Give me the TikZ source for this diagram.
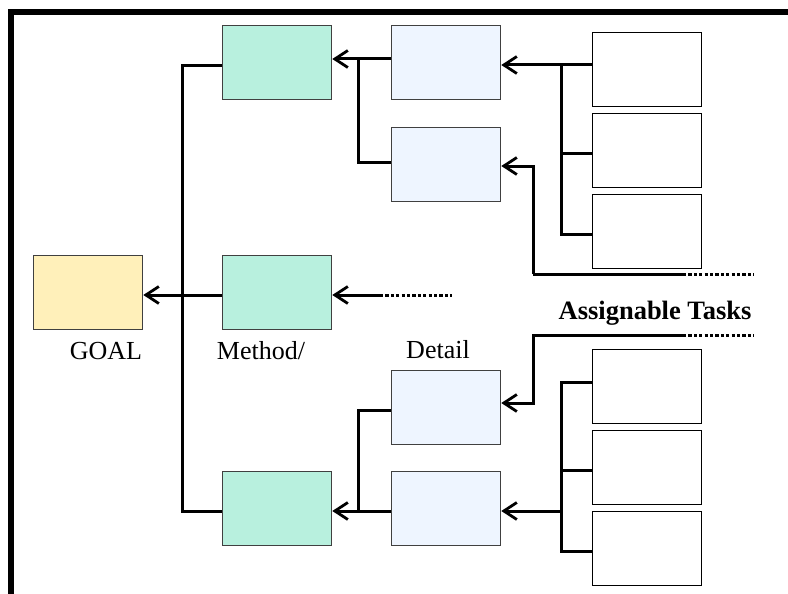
\documentclass[tikz,border=0pt]{standalone}
\usepackage{fontspec}
\setmainfont{Liberation Serif}
\usetikzlibrary{arrows.meta}
\definecolor{mgreen}{RGB}{184,240,222}
\definecolor{gyellow}{RGB}{255,240,186}
\definecolor{dblue}{RGB}{238,245,255}
\definecolor{bgray}{RGB}{64,64,64}
\begin{document}
\begin{tikzpicture}[x=1pt,y=-1pt,
  boxbase/.style={draw=bgray,line width=1.3pt,minimum width=109pt,minimum height=74pt,inner sep=0pt,anchor=north west},
  goalbox/.style={boxbase,fill=gyellow},
  methbox/.style={boxbase,fill=mgreen},
  detbox/.style={boxbase,fill=dblue},
  taskbox/.style={boxbase,fill=white,draw=black},
  conn/.style={line width=3pt},
  arr/.style={conn,-{Straight Barb[length=13pt,width=17pt,line width=2.8pt]}},
  dotline/.style={line width=3pt,dash pattern=on 3.2pt off 2.2pt},
  lbl/.style={font=\fontsize{26}{30}\selectfont,inner sep=0pt,anchor=base}
  ]
\useasboundingbox (0,0) rectangle (788,594);
% frame
\draw[line width=6pt] (11,597) -- (11,12) -- (792,12);
% boxes
\node[goalbox] (G) at (33,255) {};
\node[methbox] (M1) at (222,25) {};
\node[methbox] (M2) at (222,255) {};
\node[methbox] (M3) at (222,471) {};
\node[detbox] (D1) at (391,25) {};
\node[detbox] (D2) at (391,127) {};
\node[detbox] (D3) at (391,370) {};
\node[detbox] (D4) at (391,471) {};
\node[taskbox] (T1) at (592,32) {};
\node[taskbox] (T2) at (592,113) {};
\node[taskbox] (T3) at (592,194) {};
\node[taskbox] (T4) at (592,349) {};
\node[taskbox] (T5) at (592,430) {};
\node[taskbox] (T6) at (592,511) {};
% labels
\node[lbl] (lg) at (106,359) {GOAL};
\node[lbl] (lm) at (261,359) {Method/};
\node[lbl] (ld) at (438,358) {Detail};
\node[lbl,font=\fontsize{26.5}{30}\selectfont\bfseries] (la) at (655,319) {Assignable Tasks};
% coordinates
\coordinate (trunk) at (182,295);
\coordinate (m1b) at (358,59);
\coordinate (t1b) at (561,65);
\coordinate (d2b) at (533,166);
\coordinate (d2e) at (683,274);
\coordinate (d2f) at (754,274);
\coordinate (m2e) at (380,295);
\coordinate (m2f) at (452,295);
\coordinate (m3b) at (358,511);
\coordinate (d3e) at (683,335);
\coordinate (d3f) at (754,335);
\coordinate (t4b) at (561,511);
% method -> goal
\draw[arr] (M2.west |- trunk) -- (G.east |- trunk);
\draw[conn] (M1.west |- 0,66) -| (182,511) -- (M3.west |- 0,511);
% details -> M1
\draw[arr] (D1.west |- m1b) -- (M1.east |- m1b);
\draw[conn] (m1b) |- (D2.west |- 0,162);
% tasks -> D1
\draw[arr] (T1.west |- t1b) -- (D1.east |- t1b);
\draw[conn] (t1b) |- (T3.west |- 0,234);
\draw[conn] (t1b |- 0,153) -- (T2.west |- 0,153);
% D2 open chain
\draw[arr] (d2b |- 0,274) |- (D2.east |- d2b);
\draw[conn] (d2b |- 0,274) -- (d2e);
\draw[dotline] (d2e) -- (d2f);
% M2 open chain
\draw[arr] (m2e) -- (M2.east |- m2e);
\draw[dotline] (m2e) -- (m2f);
% details -> M3
\draw[arr] (D4.west |- m3b) -- (M3.east |- m3b);
\draw[conn] (m3b) |- (D3.west |- 0,410);
% D3 open chain
\draw[arr] (d3e) -| (533,403) -- (D3.east |- 0,403);
\draw[dotline] (d3e) -- (d3f);
% tasks -> D4
\draw[arr] (t4b) -- (D4.east |- t4b);
\draw[conn] (T4.west |- 0,382) -| (561,551) -- (T6.west |- 0,551);
\draw[conn] (561,470) -- (T5.west |- 0,470);
\end{tikzpicture}
\end{document}
